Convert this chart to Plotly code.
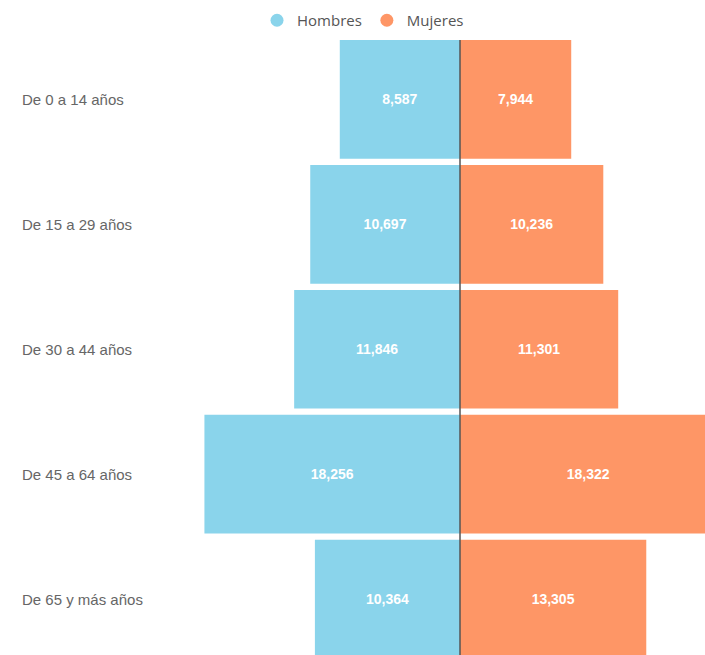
import plotly.graph_objects as go

categories = ["De 0 a 14 años", "De 15 a 29 años", "De 30 a 44 años", "De 45 a 64 años", "De 65 y más años"]
hombres = [8587, 10697, 11846, 18256, 10364]
mujeres = [7944, 10236, 11301, 18322, 13305]

c_h = "#8AD4EB"
c_m = "#FE9666"
ypos = list(range(len(categories)))

W, H = 705, 655
ml = 180
pw = W - ml
cx = 460
px_per_unit = 14.0 / 1000
xmin = -(cx - ml) / px_per_unit
xmax = (W - cx) / px_per_unit
plot_top = 36.5
ph = H - plot_top
ybottom = -0.5 + ph / 125.0

lab_font = dict(color="white", size=14, family="Liberation Sans")

fig = go.Figure()
fig.add_trace(go.Bar(
    y=ypos, x=[-v for v in hombres], orientation="h", name="Hombres",
    marker=dict(color=c_h, line=dict(width=0)),
    text=[f"<b>{v:,}</b>" for v in hombres], textposition="inside", insidetextanchor="middle",
    textfont=lab_font, showlegend=False, hoverinfo="skip",
))
fig.add_trace(go.Bar(
    y=ypos, x=mujeres, orientation="h", name="Mujeres",
    marker=dict(color=c_m, line=dict(width=0)),
    text=[f"<b>{v:,}</b>" for v in mujeres], textposition="inside", insidetextanchor="middle",
    textfont=lab_font, showlegend=False, hoverinfo="skip",
))
for name, col in [("Hombres", c_h), ("Mujeres", c_m)]:
    fig.add_trace(go.Scatter(x=[None], y=[None], mode="markers", name=name,
                             marker=dict(symbol="circle", size=13, color=col)))

fig.add_shape(type="line", xref="x", yref="y", x0=0, x1=0, y0=-0.475, y1=ybottom + 1,
              line=dict(color="#555555", width=1.5), layer="above")

for i, c in enumerate(categories):
    fig.add_annotation(x=(20 - ml) / pw, xref="paper", y=i, yref="y", text=c, showarrow=False,
                       xanchor="left", font=dict(size=15, color="#666666", family="Liberation Sans"))

fig.update_layout(
    width=W, height=H,
    margin=dict(l=ml, r=0, t=plot_top, b=0),
    paper_bgcolor="white", plot_bgcolor="white",
    barmode="relative", bargap=0.05,
    xaxis=dict(range=[xmin, xmax], showgrid=False, zeroline=False, showticklabels=False, fixedrange=True),
    yaxis=dict(range=[ybottom, -0.5], showgrid=False, zeroline=False, showticklabels=False, fixedrange=True),
    legend=dict(orientation="h", x=(363 - ml) / pw, xanchor="center", y=1 + (plot_top - 20) / ph,
                yanchor="middle", font=dict(size=15, color="#555555", family="Open Sans"), itemwidth=30,
                tracegroupgap=0),
    showlegend=True,
)
fig.write_html(
    "out.html",
    config={"displayModeBar": False},
    post_script="document.body.style.margin='0';document.body.style.overflow='hidden';",
)
